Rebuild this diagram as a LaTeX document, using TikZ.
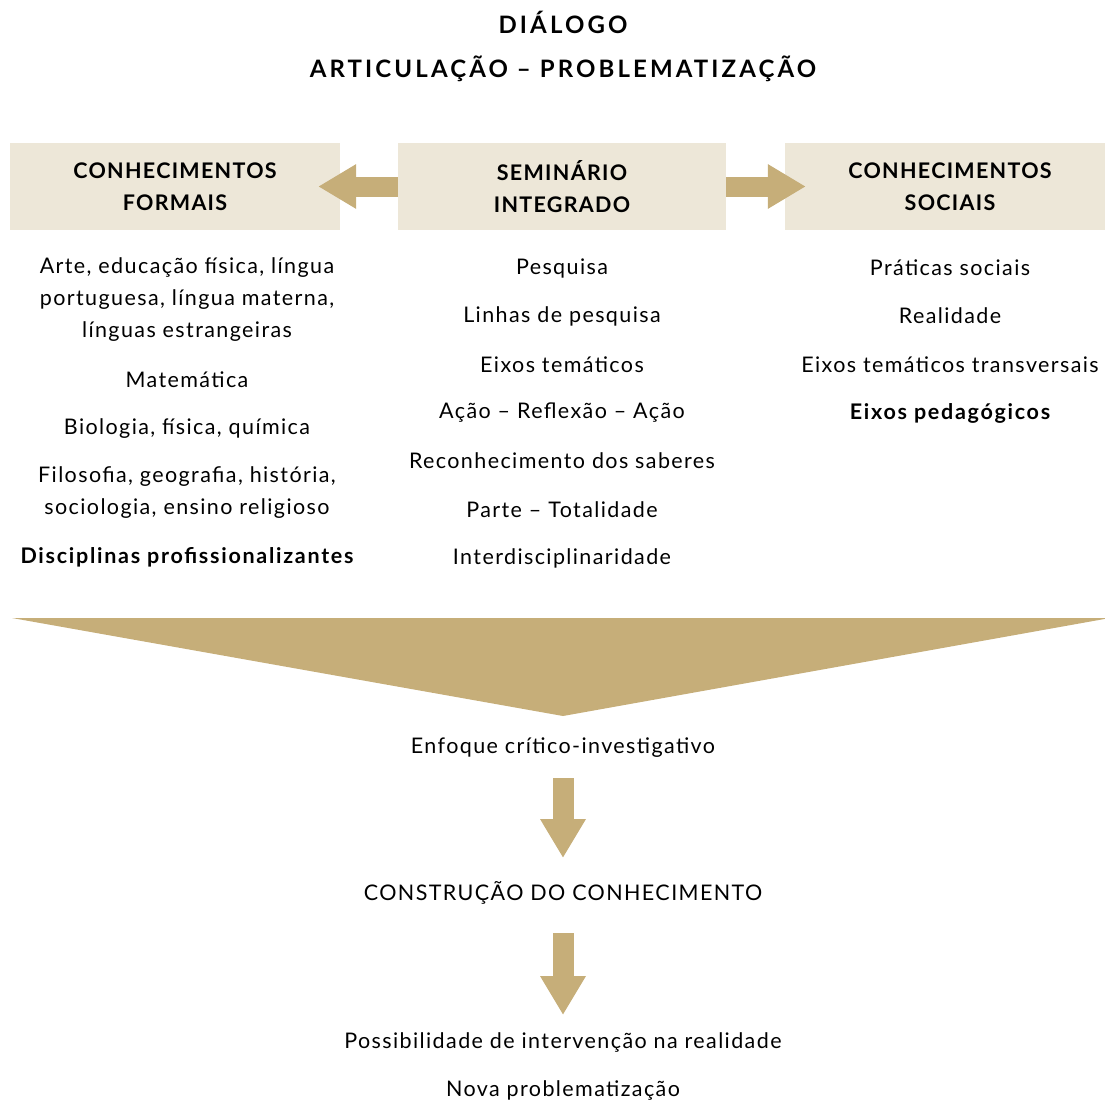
\documentclass[tikz,border=0pt]{standalone}
\usepackage{fontspec}
\setmainfont{Lato}[LetterSpace=6.5]
\usetikzlibrary{arrows.meta}
\definecolor{boxfill}{HTML}{EDE7D8}
\definecolor{arrowfill}{HTML}{C6AE79}
\newcommand{\bodysize}{\fontsize{21.5}{32}\selectfont}
\newcommand{\boldbody}{\bfseries\addfontfeatures{LetterSpace=8}\bodysize}
\tikzset{
    headbox/.style={fill=boxfill, minimum width=330pt, minimum height=87pt, inner sep=0pt, align=center, font=\bfseries\addfontfeatures{LetterSpace=6}\bodysize},
    item/.style={align=center, inner sep=0pt, font=\bodysize},
    sidearrow/.style={draw=arrowfill, line width=20pt, -{Triangle[length=38pt,width=42pt]}},
    downarrow/.style={draw=arrowfill, line width=21pt, -{Triangle[length=39pt,width=43pt]}}
}

\begin{document}
\begin{tikzpicture}[x=1pt, y=-1pt]
    \useasboundingbox (0,0) rectangle (1105,1103);

    % Title
    \node[item, font=\bfseries\addfontfeatures{LetterSpace=13}\fontsize{24}{44}\selectfont] (title) at (563,46) {DIÁLOGO\\ARTICULAÇÃO -- PROBLEMATIZAÇÃO};

    % Header boxes
    \node[headbox] (formais) at (175,186.5) {CONHECIMENTOS\\FORMAIS};
    \node[headbox, minimum width=328pt] (seminario) at (562,186.5) {SEMINÁRIO\\INTEGRADO};
    \node[headbox] (sociais) at (950,186.5) {CONHECIMENTOS\\SOCIAIS};

    % Arrows between boxes
    \draw[sidearrow] (seminario.west) -- ([xshift=-22pt]formais.east);
    \draw[sidearrow] (seminario.east) -- ([xshift=21pt]sociais.west);

    % Left column
    \node[item] (arte) at (187,300) {Arte, educação física, língua\\portuguesa, língua materna,\\línguas estrangeiras};
    \node[item] (mat) at (187,380) {Matemática};
    \node[item] (bio) at (187,429) {Biologia, física, química};
    \node[item] (filo) at (187,493) {Filosofia, geografia, história,\\sociologia, ensino religioso};
    \node[item, font=\boldbody] (prof) at (187,557) {Disciplinas profissionalizantes};

    % Middle column
    \node[item] (pesq) at (562,268) {Pesquisa};
    \node[item] (linhas) at (562,316) {Linhas de pesquisa};
    \node[item] (eixos) at (562,365) {Eixos temáticos};
    \node[item] (acao) at (562,413) {Ação -- Reflexão -- Ação};
    \node[item] (saberes) at (562,461) {Reconhecimento dos saberes};
    \node[item] (parte) at (562,510) {Parte -- Totalidade};
    \node[item] (inter) at (562,558) {Interdisciplinaridade};

    % Right column
    \node[item] (praticas) at (950,268) {Práticas sociais};
    \node[item] (realidade) at (950,316) {Realidade};
    \node[item] (transv) at (950,365) {Eixos temáticos transversais};
    \node[item, font=\boldbody] (pedag) at (950,413) {Eixos pedagógicos};

    % Funnel
    \fill[arrowfill] (12,618) -- (1110,618) -- (563,716) -- cycle;

    % Lower chain
    \node[item] (enfoque) at (563,748) {Enfoque crítico-investigativo};
    \node[item] (construcao) at (563,893) {CONSTRUÇÃO DO CONHECIMENTO};
    \node[item] (possib) at (563,1042) {Possibilidade de intervenção na realidade};
    \node[item] (nova) at (563,1090) {Nova problematização};

    \coordinate (a1) at (563,778);
    \coordinate (a2) at (563,858);
    \coordinate (b1) at (563,933);
    \coordinate (b2) at (563,1015);
    \draw[downarrow] (a1) -- (a2);
    \draw[downarrow] (b1) -- (b2);
\end{tikzpicture}
\end{document}
